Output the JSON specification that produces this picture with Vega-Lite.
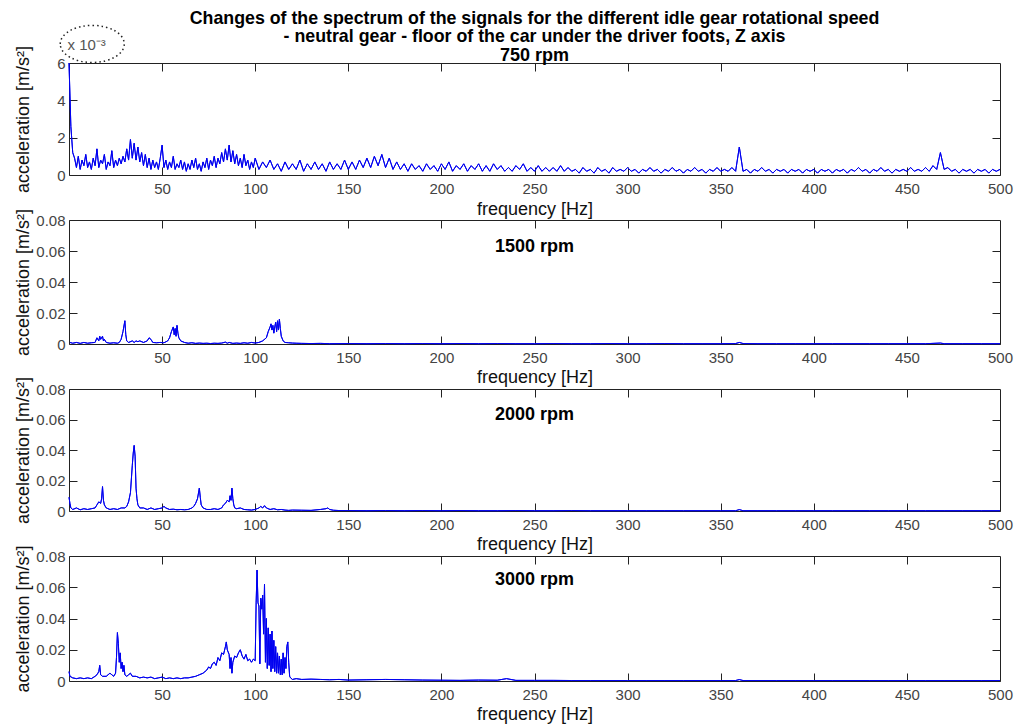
{
"$schema": "https://vega.github.io/schema/vega-lite/v6.json",
"background": "white",
"padding": {"left": 14, "top": 9, "right": 10, "bottom": 2},
"bounds": "flush",
"spacing": 45,
"config": {
  "view": {"stroke": "#222", "strokeWidth": 1},
  "font": "Liberation Sans",
  "axis": {"labelFont": "Liberation Sans", "labelFontSize": 15, "labelColor": "#444", "titleFont": "Liberation Sans", "titleFontSize": 18, "titleFontWeight": "normal", "titleColor": "#111", "domain": false, "grid": false, "tickColor": "#222", "tickSize": -8, "labelFlush": false, "labelOverlap": false}
},
"datasets": {
"one": [{}],
"p750": [
{"f":0,"a":0.006},{"f":1,"a":0.0026},{"f":2,"a":0.0012},{"f":3,"a":0.0009},{"f":4,"a":0.0004},{"f":5,"a":0.001},{"f":6,"a":0.0003},{"f":7,"a":0.0008},{"f":8,"a":0.0005},{"f":9,"a":0.0011},{"f":10,"a":0.0004},{"f":11,"a":0.0007},{"f":12,"a":0.0003},{"f":13,"a":0.0009},{"f":14,"a":0.0005},{"f":15,"a":0.0014},{"f":16,"a":0.0004},{"f":17,"a":0.0008},{"f":18,"a":0.0006},{"f":19,"a":0.0011},{"f":20,"a":0.0003},{"f":21,"a":0.0007},{"f":22,"a":0.0005},{"f":23,"a":0.0013},{"f":24,"a":0.0004},{"f":25,"a":0.0008},{"f":26,"a":0.0005},{"f":27,"a":0.0009},{"f":28,"a":0.0006},{"f":29,"a":0.001},{"f":30,"a":0.0007},{"f":31,"a":0.0014},{"f":32,"a":0.0008},{"f":33,"a":0.0019},{"f":34,"a":0.0009},{"f":35,"a":0.0017},{"f":36,"a":0.0008},{"f":37,"a":0.0015},{"f":38,"a":0.0007},{"f":39,"a":0.0012},{"f":40,"a":0.0005},{"f":41,"a":0.0011},{"f":42,"a":0.0004},{"f":43,"a":0.0009},{"f":44,"a":0.0003},{"f":45,"a":0.0008},{"f":46,"a":0.0004},{"f":47,"a":0.0007},{"f":48,"a":0.0003},{"f":49,"a":0.0009},{"f":50,"a":0.0016},{"f":51,"a":0.0004},{"f":52,"a":0.0008},{"f":53,"a":0.0003},{"f":54,"a":0.0007},{"f":55,"a":0.0004},{"f":56,"a":0.001},{"f":57,"a":0.0003},{"f":58,"a":0.0006},{"f":59,"a":0.0004},{"f":60,"a":0.0008},{"f":61,"a":0.0003},{"f":62,"a":0.0007},{"f":63,"a":0.0002},{"f":64,"a":0.0006},{"f":65,"a":0.0003},{"f":66,"a":0.0008},{"f":67,"a":0.0004},{"f":68,"a":0.0009},{"f":69,"a":0.0003},{"f":70,"a":0.0006},{"f":71,"a":0.0002},{"f":72,"a":0.0007},{"f":73,"a":0.0004},{"f":74,"a":0.0009},{"f":75,"a":0.0003},{"f":76,"a":0.0008},{"f":77,"a":0.0005},{"f":78,"a":0.001},{"f":79,"a":0.0004},{"f":80,"a":0.0009},{"f":81,"a":0.0006},{"f":82,"a":0.0012},{"f":83,"a":0.0007},{"f":84,"a":0.0014},{"f":85,"a":0.0008},{"f":86,"a":0.0016},{"f":87,"a":0.0007},{"f":88,"a":0.0013},{"f":89,"a":0.0006},{"f":90,"a":0.0011},{"f":91,"a":0.0005},{"f":92,"a":0.0009},{"f":93,"a":0.0004},{"f":94,"a":0.0011},{"f":95,"a":0.0005},{"f":96,"a":0.0008},{"f":97,"a":0.0003},{"f":98,"a":0.0007},{"f":99,"a":0.0004},{"f":100,"a":0.0009},
{"f":102,"a":0.0003},{"f":104,"a":0.0007},{"f":106,"a":0.0004},{"f":108,"a":0.0008},{"f":110,"a":0.0003},{"f":112,"a":0.0006},{"f":114,"a":0.0002},{"f":116,"a":0.0007},{"f":118,"a":0.0003},{"f":120,"a":0.0006},{"f":122,"a":0.0003},{"f":124,"a":0.0008},{"f":126,"a":0.0002},{"f":128,"a":0.0006},{"f":130,"a":0.0003},{"f":132,"a":0.0007},{"f":134,"a":0.0003},{"f":136,"a":0.0006},{"f":138,"a":0.0002},{"f":140,"a":0.0007},{"f":142,"a":0.0003},{"f":144,"a":0.0006},{"f":146,"a":0.0003},{"f":148,"a":0.0008},{"f":150,"a":0.0003},{"f":152,"a":0.0007},{"f":154,"a":0.0003},{"f":156,"a":0.0008},{"f":158,"a":0.0004},{"f":160,"a":0.0009},{"f":162,"a":0.0004},{"f":164,"a":0.001},{"f":166,"a":0.0005},{"f":168,"a":0.0011},{"f":170,"a":0.0004},{"f":172,"a":0.0009},{"f":174,"a":0.0003},{"f":176,"a":0.0007},{"f":178,"a":0.0003},{"f":180,"a":0.0006},{"f":182,"a":0.0002},{"f":184,"a":0.0006},{"f":186,"a":0.0003},{"f":188,"a":0.0005},{"f":190,"a":0.0002},{"f":192,"a":0.0006},{"f":194,"a":0.0003},{"f":196,"a":0.0005},{"f":198,"a":0.0002},{"f":200,"a":0.0006},{"f":202,"a":0.0003},{"f":204,"a":0.0007},{"f":206,"a":0.0002},{"f":208,"a":0.0005},{"f":210,"a":0.0003},{"f":212,"a":0.0006},{"f":214,"a":0.0002},{"f":216,"a":0.0005},{"f":218,"a":0.0003},{"f":220,"a":0.0006},{"f":222,"a":0.0002},{"f":224,"a":0.0005},{"f":226,"a":0.0002},{"f":228,"a":0.0006},{"f":230,"a":0.0003},{"f":232,"a":0.0005},{"f":234,"a":0.0002},{"f":236,"a":0.0004},{"f":238,"a":0.0002},{"f":240,"a":0.0005},{"f":242,"a":0.0003},{"f":244,"a":0.0006},{"f":246,"a":0.0002},{"f":248,"a":0.0004},{"f":250,"a":0.0002},{"f":252,"a":0.0005},{"f":254,"a":0.0002},{"f":256,"a":0.0004},{"f":258,"a":0.0002},{"f":260,"a":0.0004},{"f":262,"a":0.0002},{"f":264,"a":0.0005},{"f":266,"a":0.0002},{"f":268,"a":0.0004},{"f":270,"a":0.0002},{"f":272,"a":0.0003},{"f":274,"a":0.0001},{"f":276,"a":0.0004},{"f":278,"a":0.0002},{"f":280,"a":0.0003},{"f":282,"a":0.0001},{"f":284,"a":0.0004},{"f":286,"a":0.0002},{"f":288,"a":0.0003},{"f":290,"a":0.0001},{"f":292,"a":0.0004},{"f":294,"a":0.0002},{"f":296,"a":0.0003},{"f":298,"a":0.0002},{"f":300,"a":0.0004},{"f":302,"a":0.0002},{"f":304,"a":0.0003},{"f":306,"a":0.0001},{"f":308,"a":0.0003},{"f":310,"a":0.0002},{"f":312,"a":0.0004},{"f":314,"a":0.0002},{"f":316,"a":0.0003},{"f":318,"a":0.0001},{"f":320,"a":0.0003},{"f":322,"a":0.0002},{"f":324,"a":0.0004},{"f":326,"a":0.0002},{"f":328,"a":0.0003},{"f":330,"a":0.0001},{"f":332,"a":0.0003},{"f":334,"a":0.0002},{"f":336,"a":0.0004},{"f":338,"a":0.0002},{"f":340,"a":0.0003},{"f":342,"a":0.0001},{"f":344,"a":0.0003},{"f":346,"a":0.0002},{"f":348,"a":0.0004},{"f":350,"a":0.0002},{"f":352,"a":0.0003},{"f":354,"a":0.0002},{"f":356,"a":0.0004},{"f":358,"a":0.0002},{"f":360,"a":0.0015},{"f":362,"a":0.0002},{"f":364,"a":0.0003},{"f":366,"a":0.0001},{"f":368,"a":0.0003},{"f":370,"a":0.0002},{"f":372,"a":0.0004},{"f":374,"a":0.0002},{"f":376,"a":0.0003},{"f":378,"a":0.0001},{"f":380,"a":0.0003},{"f":382,"a":0.0002},{"f":384,"a":0.0003},{"f":386,"a":0.0001},{"f":388,"a":0.0003},{"f":390,"a":0.0002},{"f":392,"a":0.0003},{"f":394,"a":0.0001},{"f":396,"a":0.0003},{"f":398,"a":0.0002},{"f":400,"a":0.0003},{"f":402,"a":0.0001},{"f":404,"a":0.0003},{"f":406,"a":0.0002},{"f":408,"a":0.0003},{"f":410,"a":0.0001},{"f":412,"a":0.0003},{"f":414,"a":0.0002},{"f":416,"a":0.0003},{"f":418,"a":0.0001},{"f":420,"a":0.0003},{"f":422,"a":0.0002},{"f":424,"a":0.0004},{"f":426,"a":0.0002},{"f":428,"a":0.0003},{"f":430,"a":0.0001},{"f":432,"a":0.0003},{"f":434,"a":0.0002},{"f":436,"a":0.0004},{"f":438,"a":0.0002},{"f":440,"a":0.0003},{"f":442,"a":0.0001},{"f":444,"a":0.0003},{"f":446,"a":0.0002},{"f":448,"a":0.0003},{"f":450,"a":0.0002},{"f":452,"a":0.0004},{"f":454,"a":0.0002},{"f":456,"a":0.0003},{"f":458,"a":0.0002},{"f":460,"a":0.0004},{"f":462,"a":0.0002},{"f":464,"a":0.0005},{"f":466,"a":0.0003},{"f":468,"a":0.0012},{"f":470,"a":0.0003},{"f":472,"a":0.0004},{"f":474,"a":0.0002},{"f":476,"a":0.0003},{"f":478,"a":0.0001},{"f":480,"a":0.0003},{"f":482,"a":0.0002},{"f":484,"a":0.0003},{"f":486,"a":0.0001},{"f":488,"a":0.0003},{"f":490,"a":0.0002},{"f":492,"a":0.0003},{"f":494,"a":0.0001},{"f":496,"a":0.0003},{"f":498,"a":0.0002},{"f":500,"a":0.0003}
],
"p1500": [
{"f":0.5,"a":0.001},{"f":2,"a":0.0005},{"f":4,"a":0.001},{"f":6,"a":0.0004},{"f":8,"a":0.001},{"f":10,"a":0.0005},{"f":12,"a":0.0008},{"f":14,"a":0.001},{"f":15,"a":0.004},{"f":16,"a":0.002},{"f":16.5,"a":0.005},{"f":17,"a":0.003},{"f":18,"a":0.005},{"f":18.5,"a":0.002},{"f":19,"a":0.003},{"f":20,"a":0.001},{"f":22,"a":0.0005},{"f":24,"a":0.0008},{"f":26,"a":0.0005},{"f":27,"a":0.001},{"f":28,"a":0.003},{"f":29,"a":0.008},{"f":30,"a":0.015},{"f":30.5,"a":0.006},{"f":31,"a":0.002},{"f":32,"a":0.001},{"f":34,"a":0.002},{"f":35,"a":0.001},{"f":36,"a":0.002},{"f":37,"a":0.0015},{"f":38,"a":0.002},{"f":40,"a":0.001},{"f":42,"a":0.002},{"f":43,"a":0.004},{"f":44,"a":0.003},{"f":45,"a":0.001},{"f":47,"a":0.0008},{"f":49,"a":0.001},{"f":51,"a":0.0008},{"f":53,"a":0.002},{"f":54,"a":0.004},{"f":55,"a":0.008},{"f":56,"a":0.011},{"f":56.5,"a":0.006},{"f":57,"a":0.01},{"f":57.5,"a":0.005},{"f":58,"a":0.012},{"f":58.5,"a":0.007},{"f":59,"a":0.004},{"f":60,"a":0.002},{"f":62,"a":0.001},{"f":64,"a":0.0005},{"f":66,"a":0.0008},{"f":68,"a":0.0004},{"f":70,"a":0.0006},{"f":72,"a":0.0004},{"f":74,"a":0.0005},{"f":76,"a":0.0003},{"f":78,"a":0.0005},{"f":80,"a":0.0004},{"f":82,"a":0.0006},{"f":84,"a":0.0012},{"f":85,"a":0.0005},{"f":86,"a":0.001},{"f":88,"a":0.0004},{"f":90,"a":0.0006},{"f":92,"a":0.0004},{"f":94,"a":0.0008},{"f":96,"a":0.0005},{"f":98,"a":0.001},{"f":100,"a":0.0006},{"f":102,"a":0.001},{"f":104,"a":0.002},{"f":106,"a":0.004},{"f":107,"a":0.008},{"f":108,"a":0.011},{"f":108.5,"a":0.013},{"f":109,"a":0.009},{"f":109.5,"a":0.012},{"f":110,"a":0.007},{"f":110.5,"a":0.011},{"f":111,"a":0.014},{"f":111.5,"a":0.008},{"f":112,"a":0.015},{"f":112.5,"a":0.009},{"f":113,"a":0.016},{"f":113.5,"a":0.01},{"f":114,"a":0.005},{"f":115,"a":0.002},{"f":116,"a":0.001},{"f":118,"a":0.0008},{"f":120,"a":0.0006},{"f":122,"a":0.0005},{"f":125,"a":0.0004},{"f":130,"a":0.0003},{"f":135,"a":0.0004},{"f":140,"a":0.0002},{"f":150,"a":0.0003},{"f":160,"a":0.0002},{"f":170,"a":0.0003},{"f":180,"a":0.0002},{"f":190,"a":0.0003},{"f":200,"a":0.0002},{"f":210,"a":0.0003},{"f":220,"a":0.0002},{"f":230,"a":0.0003},{"f":240,"a":0.0002},{"f":250,"a":0.0002},{"f":260,"a":0.0003},{"f":270,"a":0.0002},{"f":280,"a":0.0002},{"f":290,"a":0.0003},{"f":300,"a":0.0002},{"f":310,"a":0.0002},{"f":320,"a":0.0003},{"f":330,"a":0.0002},{"f":340,"a":0.0002},{"f":350,"a":0.0002},{"f":358,"a":0.0003},{"f":360,"a":0.001},{"f":362,"a":0.0003},{"f":370,"a":0.0002},{"f":380,"a":0.0002},{"f":390,"a":0.0002},{"f":400,"a":0.0002},{"f":410,"a":0.0002},{"f":420,"a":0.0002},{"f":430,"a":0.0002},{"f":440,"a":0.0002},{"f":450,"a":0.0002},{"f":460,"a":0.0002},{"f":468,"a":0.0006},{"f":470,"a":0.0002},{"f":480,"a":0.0002},{"f":490,"a":0.0002},{"f":500,"a":0.0002}
],
"p2000": [
{"f":0,"a":0.009},{"f":0.5,"a":0.005},{"f":1,"a":0.002},{"f":2,"a":0.001},{"f":4,"a":0.002},{"f":6,"a":0.0008},{"f":8,"a":0.0015},{"f":10,"a":0.001},{"f":12,"a":0.0015},{"f":14,"a":0.002},{"f":15,"a":0.004},{"f":16,"a":0.006},{"f":17,"a":0.005},{"f":17.5,"a":0.008},{"f":18,"a":0.016},{"f":18.5,"a":0.007},{"f":19,"a":0.004},{"f":20,"a":0.002},{"f":22,"a":0.001},{"f":24,"a":0.0015},{"f":26,"a":0.001},{"f":28,"a":0.002},{"f":30,"a":0.002},{"f":31,"a":0.003},{"f":32,"a":0.006},{"f":33,"a":0.012},{"f":34,"a":0.03},{"f":34.5,"a":0.038},{"f":35,"a":0.043},{"f":35.5,"a":0.036},{"f":36,"a":0.015},{"f":36.5,"a":0.008},{"f":37,"a":0.004},{"f":38,"a":0.002},{"f":40,"a":0.002},{"f":42,"a":0.001},{"f":44,"a":0.002},{"f":46,"a":0.001},{"f":48,"a":0.0015},{"f":50,"a":0.002},{"f":51,"a":0.003},{"f":52,"a":0.002},{"f":54,"a":0.001},{"f":56,"a":0.0012},{"f":58,"a":0.0008},{"f":60,"a":0.001},{"f":62,"a":0.0008},{"f":64,"a":0.001},{"f":66,"a":0.002},{"f":67,"a":0.003},{"f":68,"a":0.005},{"f":69,"a":0.008},{"f":70,"a":0.015},{"f":70.5,"a":0.009},{"f":71,"a":0.004},{"f":72,"a":0.002},{"f":74,"a":0.001},{"f":76,"a":0.001},{"f":78,"a":0.0015},{"f":80,"a":0.001},{"f":82,"a":0.002},{"f":83,"a":0.004},{"f":84,"a":0.005},{"f":85,"a":0.007},{"f":86,"a":0.006},{"f":86.5,"a":0.01},{"f":87,"a":0.007},{"f":87.5,"a":0.015},{"f":88,"a":0.008},{"f":88.5,"a":0.004},{"f":89,"a":0.002},{"f":90,"a":0.0015},{"f":92,"a":0.002},{"f":94,"a":0.001},{"f":96,"a":0.0008},{"f":98,"a":0.0006},{"f":100,"a":0.001},{"f":102,"a":0.002},{"f":103,"a":0.003},{"f":104,"a":0.002},{"f":105,"a":0.0035},{"f":106,"a":0.002},{"f":108,"a":0.001},{"f":110,"a":0.0015},{"f":112,"a":0.0008},{"f":114,"a":0.001},{"f":116,"a":0.0006},{"f":118,"a":0.0004},{"f":120,"a":0.0006},{"f":125,"a":0.0005},{"f":130,"a":0.0004},{"f":135,"a":0.001},{"f":138,"a":0.0015},{"f":139,"a":0.002},{"f":140,"a":0.001},{"f":142,"a":0.0005},{"f":145,"a":0.0003},{"f":150,"a":0.0003},{"f":160,"a":0.0002},{"f":170,"a":0.0003},{"f":180,"a":0.0002},{"f":190,"a":0.0003},{"f":200,"a":0.0002},{"f":210,"a":0.0003},{"f":220,"a":0.0002},{"f":230,"a":0.0002},{"f":240,"a":0.0003},{"f":250,"a":0.0002},{"f":260,"a":0.0002},{"f":270,"a":0.0003},{"f":280,"a":0.0002},{"f":290,"a":0.0002},{"f":300,"a":0.0002},{"f":310,"a":0.0002},{"f":320,"a":0.0002},{"f":330,"a":0.0002},{"f":340,"a":0.0002},{"f":350,"a":0.0002},{"f":358,"a":0.0002},{"f":360,"a":0.0009},{"f":362,"a":0.0002},{"f":370,"a":0.0002},{"f":380,"a":0.0002},{"f":390,"a":0.0002},{"f":400,"a":0.0002},{"f":410,"a":0.0002},{"f":420,"a":0.0002},{"f":430,"a":0.0002},{"f":440,"a":0.0002},{"f":450,"a":0.0002},{"f":460,"a":0.0002},{"f":470,"a":0.0002},{"f":480,"a":0.0002},{"f":490,"a":0.0002},{"f":500,"a":0.0002}
],
"p3000": [
{"f":0,"a":0.006},{"f":0.5,"a":0.003},{"f":2,"a":0.002},{"f":4,"a":0.0015},{"f":6,"a":0.002},{"f":8,"a":0.0015},{"f":10,"a":0.002},{"f":12,"a":0.0015},{"f":14,"a":0.003},{"f":15,"a":0.004},{"f":16,"a":0.006},{"f":16.5,"a":0.01},{"f":17,"a":0.004},{"f":18,"a":0.003},{"f":20,"a":0.003},{"f":21,"a":0.004},{"f":22,"a":0.005},{"f":23,"a":0.004},{"f":24,"a":0.003},{"f":25,"a":0.005},{"f":25.5,"a":0.015},{"f":26,"a":0.031},{"f":26.5,"a":0.024},{"f":27,"a":0.012},{"f":27.5,"a":0.018},{"f":28,"a":0.008},{"f":28.5,"a":0.012},{"f":29,"a":0.006},{"f":29.5,"a":0.01},{"f":30,"a":0.004},{"f":31,"a":0.003},{"f":32,"a":0.004},{"f":33,"a":0.005},{"f":34,"a":0.003},{"f":36,"a":0.003},{"f":38,"a":0.002},{"f":40,"a":0.0025},{"f":42,"a":0.002},{"f":44,"a":0.0025},{"f":46,"a":0.0015},{"f":48,"a":0.002},{"f":50,"a":0.0025},{"f":52,"a":0.0015},{"f":54,"a":0.002},{"f":56,"a":0.0015},{"f":58,"a":0.002},{"f":60,"a":0.0015},{"f":62,"a":0.002},{"f":64,"a":0.002},{"f":66,"a":0.0025},{"f":68,"a":0.003},{"f":70,"a":0.004},{"f":72,"a":0.005},{"f":74,"a":0.007},{"f":75,"a":0.009},{"f":76,"a":0.008},{"f":77,"a":0.011},{"f":78,"a":0.012},{"f":79,"a":0.01},{"f":80,"a":0.015},{"f":81,"a":0.013},{"f":82,"a":0.018},{"f":83,"a":0.017},{"f":84,"a":0.022},{"f":84.5,"a":0.025},{"f":85,"a":0.02},{"f":86,"a":0.017},{"f":86.5,"a":0.008},{"f":87,"a":0.015},{"f":87.5,"a":0.005},{"f":88,"a":0.012},{"f":89,"a":0.016},{"f":90,"a":0.015},{"f":91,"a":0.018},{"f":92,"a":0.02},{"f":93,"a":0.016},{"f":94,"a":0.014},{"f":95,"a":0.017},{"f":96,"a":0.013},{"f":97,"a":0.014},{"f":98,"a":0.012},{"f":99,"a":0.014},{"f":100,"a":0.013},{"f":100.5,"a":0.05},{"f":101,"a":0.071},{"f":101.5,"a":0.05},{"f":102,"a":0.048},{"f":102.5,"a":0.011},{"f":103,"a":0.053},{"f":103.5,"a":0.046},{"f":104,"a":0.055},{"f":104.5,"a":0.03},{"f":105,"a":0.062},{"f":105.5,"a":0.012},{"f":106,"a":0.04},{"f":106.5,"a":0.008},{"f":107,"a":0.034},{"f":107.5,"a":0.01},{"f":108,"a":0.03},{"f":108.5,"a":0.006},{"f":109,"a":0.032},{"f":109.5,"a":0.008},{"f":110,"a":0.026},{"f":110.5,"a":0.006},{"f":111,"a":0.022},{"f":111.5,"a":0.005},{"f":112,"a":0.018},{"f":112.5,"a":0.005},{"f":113,"a":0.016},{"f":113.5,"a":0.004},{"f":114,"a":0.014},{"f":114.5,"a":0.004},{"f":115,"a":0.018},{"f":115.5,"a":0.005},{"f":116,"a":0.015},{"f":116.5,"a":0.008},{"f":117,"a":0.022},{"f":117.5,"a":0.025},{"f":118,"a":0.012},{"f":118.5,"a":0.003},{"f":119,"a":0.002},{"f":120,"a":0.001},{"f":122,"a":0.0015},{"f":125,"a":0.001},{"f":130,"a":0.0012},{"f":135,"a":0.001},{"f":140,"a":0.0008},{"f":145,"a":0.001},{"f":150,"a":0.0006},{"f":160,"a":0.0008},{"f":170,"a":0.001},{"f":180,"a":0.0008},{"f":190,"a":0.0006},{"f":200,"a":0.0005},{"f":210,"a":0.0004},{"f":220,"a":0.0006},{"f":230,"a":0.0005},{"f":235,"a":0.0015},{"f":240,"a":0.0004},{"f":250,"a":0.0004},{"f":260,"a":0.0004},{"f":270,"a":0.0003},{"f":280,"a":0.0003},{"f":290,"a":0.0003},{"f":300,"a":0.0003},{"f":310,"a":0.0003},{"f":320,"a":0.0003},{"f":330,"a":0.0003},{"f":340,"a":0.0003},{"f":350,"a":0.0003},{"f":358,"a":0.0003},{"f":360,"a":0.0009},{"f":362,"a":0.0003},{"f":370,"a":0.0003},{"f":380,"a":0.0003},{"f":390,"a":0.0003},{"f":400,"a":0.0003},{"f":410,"a":0.0003},{"f":420,"a":0.0003},{"f":430,"a":0.0003},{"f":440,"a":0.0003},{"f":450,"a":0.0003},{"f":460,"a":0.0003},{"f":470,"a":0.0003},{"f":480,"a":0.0003},{"f":490,"a":0.0003},{"f":500,"a":0.0003}
]
},
"vconcat": [
{
  "width": 931, "height": 112,
  "title": {"text": ["Changes of the spectrum of the signals for the different idle gear rotational speed", "- neutral gear - floor of the car under the driver foots, Z axis"], "fontSize": 17.8, "fontWeight": "bold", "font": "Liberation Sans", "color": "#000", "anchor": "middle", "frame": "group", "offset": -23, "lineHeight": 18},
  "layer": [
    {"data": {"name": "p750"}, "mark": {"type": "line", "color": "#0000f0", "strokeWidth": 1},
     "encoding": {
       "x": {"field": "f", "type": "quantitative", "scale": {"domain": [0, 500], "nice": false}, "axis": {"orient": "bottom", "values": [50,100,150,200,250,300,350,400,450,500], "title": "frequency [Hz]", "labelPadding": 14, "titlePadding": 4}},
       "y": {"field": "a", "type": "quantitative", "scale": {"domain": [0, 0.006], "nice": false}, "axis": {"orient": "left", "values": [0, 0.002, 0.004, 0.006], "labelExpr": "format(datum.value*1000, 'd')", "title": "acceleration [m/s²]", "labelPadding": 12, "titlePadding": 24}}
     }},
    {"data": {"name": "p750"}, "mark": {"type": "line", "color": "#0000f0", "strokeWidth": 1},
     "encoding": {
       "x": {"field": "f", "type": "quantitative", "axis": {"orient": "top", "values": [50,100,150,200,250,300,350,400,450], "labels": false, "title": null}},
       "y": {"field": "a", "type": "quantitative", "axis": {"orient": "right", "values": [0.002, 0.004], "labels": false, "title": null}}
     }},
    {"data": {"name": "one"}, "mark": {"type": "text", "font": "Liberation Sans", "fontSize": 18, "fontWeight": "bold", "color": "#000"},
     "encoding": {"x": {"datum": 250, "type": "quantitative", "axis": null}, "y": {"datum": 0.00637, "type": "quantitative", "axis": null}, "text": {"value": "750 rpm"}}},
    {"data": {"name": "one"}, "mark": {"type": "text", "font": "Liberation Sans", "fontSize": 15, "color": "#555"},
     "encoding": {"x": {"datum": 9.5, "type": "quantitative", "axis": null}, "y": {"datum": 0.00695, "type": "quantitative", "axis": null}, "text": {"value": "x 10⁻³"}}},
    {"data": {"name": "one"}, "mark": {"type": "point", "shape": "M -1 0 A 1 0.58 0 1 1 1 0 A 1 0.58 0 1 1 -1 0 Z", "size": 4096, "filled": false, "stroke": "#222", "strokeWidth": 1.5, "strokeDash": [1.5, 3], "opacity": 1},
     "encoding": {"x": {"datum": 12.5, "type": "quantitative", "axis": null}, "y": {"datum": 0.00702, "type": "quantitative", "axis": null}}}
  ],
  "resolve": {"axis": {"x": "independent", "y": "independent"}}
},
{
  "width": 931, "height": 124,
  "layer": [
    {"data": {"name": "p1500"}, "mark": {"type": "line", "color": "#0000f0", "strokeWidth": 1},
     "encoding": {
       "x": {"field": "f", "type": "quantitative", "scale": {"domain": [0, 500], "nice": false}, "axis": {"orient": "bottom", "values": [50,100,150,200,250,300,350,400,450,500], "title": "frequency [Hz]", "labelPadding": 14, "titlePadding": 3}},
       "y": {"field": "a", "type": "quantitative", "scale": {"domain": [0, 0.08], "nice": false}, "axis": {"orient": "left", "values": [0, 0.02, 0.04, 0.06, 0.08], "format": "~g", "title": "acceleration [m/s²]", "labelPadding": 12, "titlePadding": 3}}
     }},
    {"data": {"name": "p1500"}, "mark": {"type": "line", "color": "#0000f0", "strokeWidth": 1},
     "encoding": {
       "x": {"field": "f", "type": "quantitative", "axis": {"orient": "top", "values": [50,100,150,200,250,300,350,400,450], "labels": false, "title": null}},
       "y": {"field": "a", "type": "quantitative", "axis": {"orient": "right", "values": [0.02, 0.04, 0.06], "labels": false, "title": null}}
     }},
    {"data": {"name": "one"}, "mark": {"type": "text", "font": "Liberation Sans", "fontSize": 18, "fontWeight": "bold", "color": "#000"},
     "encoding": {"x": {"datum": 250, "type": "quantitative", "axis": null}, "y": {"datum": 0.0628, "type": "quantitative", "axis": null}, "text": {"value": "1500 rpm"}}}
  ],
  "resolve": {"axis": {"x": "independent", "y": "independent"}}
},
{
  "width": 931, "height": 122,
  "layer": [
    {"data": {"name": "p2000"}, "mark": {"type": "line", "color": "#0000f0", "strokeWidth": 1},
     "encoding": {
       "x": {"field": "f", "type": "quantitative", "scale": {"domain": [0, 500], "nice": false}, "axis": {"orient": "bottom", "values": [50,100,150,200,250,300,350,400,450,500], "title": "frequency [Hz]", "labelPadding": 14, "titlePadding": 3}},
       "y": {"field": "a", "type": "quantitative", "scale": {"domain": [0, 0.08], "nice": false}, "axis": {"orient": "left", "values": [0, 0.02, 0.04, 0.06, 0.08], "format": "~g", "title": "acceleration [m/s²]", "labelPadding": 12, "titlePadding": 3}}
     }},
    {"data": {"name": "p2000"}, "mark": {"type": "line", "color": "#0000f0", "strokeWidth": 1},
     "encoding": {
       "x": {"field": "f", "type": "quantitative", "axis": {"orient": "top", "values": [50,100,150,200,250,300,350,400,450], "labels": false, "title": null}},
       "y": {"field": "a", "type": "quantitative", "axis": {"orient": "right", "values": [0.02, 0.04, 0.06], "labels": false, "title": null}}
     }},
    {"data": {"name": "one"}, "mark": {"type": "text", "font": "Liberation Sans", "fontSize": 18, "fontWeight": "bold", "color": "#000"},
     "encoding": {"x": {"datum": 250, "type": "quantitative", "axis": null}, "y": {"datum": 0.0628, "type": "quantitative", "axis": null}, "text": {"value": "2000 rpm"}}}
  ],
  "resolve": {"axis": {"x": "independent", "y": "independent"}}
},
{
  "width": 931, "height": 125,
  "layer": [
    {"data": {"name": "p3000"}, "mark": {"type": "line", "color": "#0000f0", "strokeWidth": 1},
     "encoding": {
       "x": {"field": "f", "type": "quantitative", "scale": {"domain": [0, 500], "nice": false}, "axis": {"orient": "bottom", "values": [50,100,150,200,250,300,350,400,450,500], "title": "frequency [Hz]", "labelPadding": 14, "titlePadding": 3}},
       "y": {"field": "a", "type": "quantitative", "scale": {"domain": [0, 0.08], "nice": false}, "axis": {"orient": "left", "values": [0, 0.02, 0.04, 0.06, 0.08], "format": "~g", "title": "acceleration [m/s²]", "labelPadding": 12, "titlePadding": 3}}
     }},
    {"data": {"name": "p3000"}, "mark": {"type": "line", "color": "#0000f0", "strokeWidth": 1},
     "encoding": {
       "x": {"field": "f", "type": "quantitative", "axis": {"orient": "top", "values": [50,100,150,200,250,300,350,400,450], "labels": false, "title": null}},
       "y": {"field": "a", "type": "quantitative", "axis": {"orient": "right", "values": [0.02, 0.04, 0.06], "labels": false, "title": null}}
     }},
    {"data": {"name": "one"}, "mark": {"type": "text", "font": "Liberation Sans", "fontSize": 18, "fontWeight": "bold", "color": "#000"},
     "encoding": {"x": {"datum": 250, "type": "quantitative", "axis": null}, "y": {"datum": 0.0648, "type": "quantitative", "axis": null}, "text": {"value": "3000 rpm"}}}
  ],
  "resolve": {"axis": {"x": "independent", "y": "independent"}}
}
]
}
